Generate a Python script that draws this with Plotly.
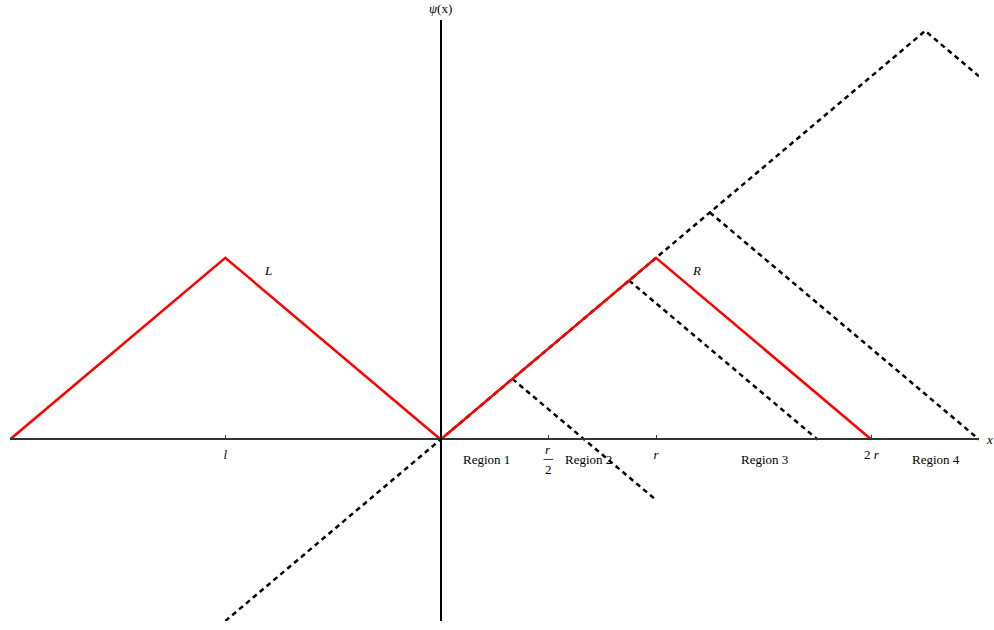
import plotly.graph_objects as go

# ---- data ----
left_x = [-2.0, -1.0, 0.0]
left_y = [0.0, 1.0, 0.0]
right_x = [0.0, 1.0, 2.0]
right_y = [0.0, 1.0, 0.0]
diag_x = [-1.0, 2.25, 2.5]
diag_y = [-1.0, 2.25, 2.0]
branch_starts = [1/3, 0.875, 1.25]
branch_ends = [1.0, 1.75, 2.5]
tick_vals = [-1.0, 1.0, 2.0]
tick_text = ["<i>l</i>", "<i>r</i>", "2 <i>r</i>"]
half_tick = 0.5
region_x = [0.215, 0.685, 1.505, 2.3]
region_text = ["Region 1", "Region 2", "Region 3", "Region 4"]

XR = [-2.0, 2.5]
YR = [-1.0, 2.31]
W, H = 994, 630
xdom = [10 / W, 979 / W]
ydom = [9 / H, 610 / H]

FONT = "Liberation Serif"
FS = 13

fig = go.Figure()
dash = "5px,4px"
fig.add_trace(go.Scatter(x=diag_x, y=diag_y, mode="lines",
                         line=dict(color="black", width=2.5, dash=dash), cliponaxis=False))
for a, e in zip(branch_starts, branch_ends):
    fig.add_trace(go.Scatter(x=[a, e], y=[a, 2 * a - e], mode="lines",
                             line=dict(color="black", width=2.5, dash=dash), cliponaxis=False))
fig.add_trace(go.Scatter(x=left_x, y=left_y, mode="lines",
                         line=dict(color="#ff0000", width=2.5), cliponaxis=False))
fig.add_trace(go.Scatter(x=right_x, y=right_y, mode="lines",
                         line=dict(color="#ff0000", width=2.5), cliponaxis=False))

xpos = ydom[0] + (0 - YR[0]) / (YR[1] - YR[0]) * (ydom[1] - ydom[0])
ypos = xdom[0] + (0 - XR[0]) / (XR[1] - XR[0]) * (xdom[1] - xdom[0])

fig.update_layout(
    width=W, height=H, margin=dict(l=0, r=0, t=0, b=0, autoexpand=False),
    paper_bgcolor="white", plot_bgcolor="white", showlegend=False,
    font=dict(family=FONT, size=FS, color="black"),
    xaxis=dict(range=XR, domain=xdom, anchor="free", position=xpos, automargin=False,
               showgrid=False, zeroline=False, showline=True, linecolor="#333",
               linewidth=1.5, ticks="inside", ticklen=4, tickwidth=1, tickcolor="#333",
               tickvals=tick_vals + [half_tick], ticktext=tick_text + [""],
               ticklabelstandoff=3,
               tickfont=dict(family=FONT, size=FS), fixedrange=True),
    yaxis=dict(range=YR, domain=ydom, anchor="free", position=ypos, automargin=False,
               showgrid=False, zeroline=False, showline=True, linecolor="black",
               linewidth=1.5, showticklabels=False, ticks="", fixedrange=True),
)

ann = []
for xv, t in zip(region_x, region_text):
    ann.append(dict(x=xv, y=0, xref="x", yref="y", text=t, showarrow=False,
                    yshift=-20, font=dict(family=FONT, size=FS)))
ann.append(dict(x=half_tick, y=0, xref="x", yref="y", text="<i>r</i>", showarrow=False,
                yshift=-10, font=dict(family=FONT, size=FS)))
ann.append(dict(x=half_tick, y=0, xref="x", yref="y", text="2", showarrow=False,
                yshift=-30, font=dict(family=FONT, size=FS)))
ann.append(dict(x=-0.8, y=0.93, xref="x", yref="y", text="<i>L</i>", showarrow=False,
                font=dict(family=FONT, size=FS)))
ann.append(dict(x=1.19, y=0.93, xref="x", yref="y", text="<i>R</i>", showarrow=False,
                font=dict(family=FONT, size=FS)))
ann.append(dict(x=0, y=YR[1], xref="x", yref="y", text="<i>ψ</i>(x)", showarrow=False,
                yshift=12, font=dict(family=FONT, size=FS)))
ann.append(dict(x=XR[1], y=0, xref="x", yref="y", text="<i>x</i>", showarrow=False,
                xshift=10, font=dict(family=FONT, size=FS)))
fig.update_layout(annotations=ann)
fig.add_shape(type="line", xref="x", yref="y", x0=half_tick - 0.022, x1=half_tick + 0.022,
              y0=-20 / 181.5, y1=-20 / 181.5, line=dict(color="black", width=0.8))

fig.write_html("out.html", config={"displayModeBar": False},
               post_script="document.body.style.margin='0';")
